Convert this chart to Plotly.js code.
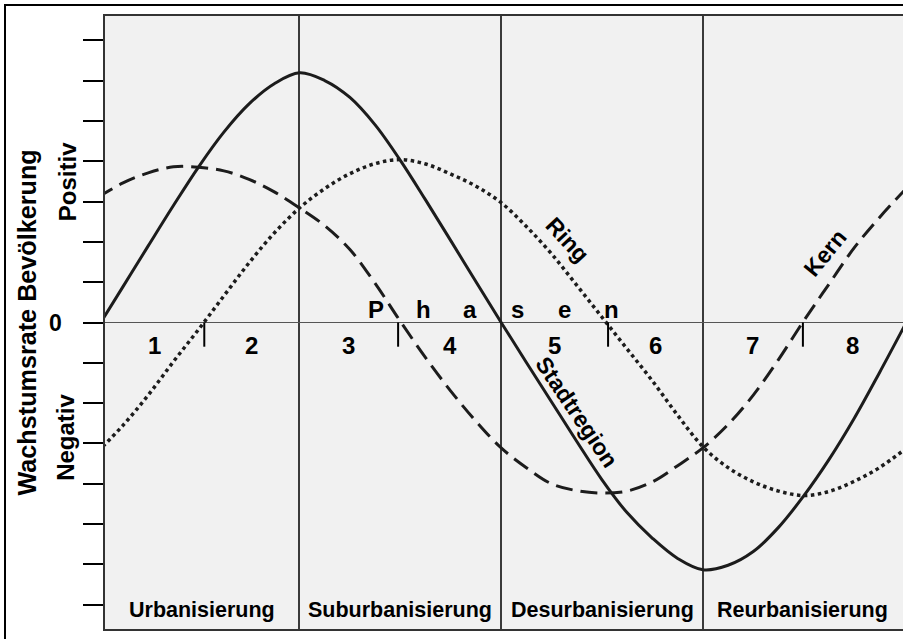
<!DOCTYPE html>
<html>
<head>
<meta charset="utf-8">
<script src="https://cdn.plot.ly/plotly-3.0.1.min.js"></script>
<style>
html, body { margin:0; padding:0; overflow:hidden; background:#fff; }
#chart { width:920px; height:660px; }
</style>
</head>
<body>
<div id="chart"></div>
<script>
// ---- data (x in stage units, 1 stage = 1) ----
const xs = [0, 0.125, 0.25, 0.375, 0.5, 0.625, 0.75, 0.875, 1.0, 1.125, 1.25, 1.375, 1.5, 1.625, 1.75, 1.875,
            2.0, 2.125, 2.25, 2.375, 2.5, 2.625, 2.75, 2.875, 3.0, 3.125, 3.25, 3.375, 3.5, 3.625, 3.75, 3.875, 4.0];
const stadtregion = [-0.12, 0.89, 1.9, 2.9, 3.86, 4.72, 5.42, 5.92, 6.19, 6.0, 5.58, 4.9, 4.02, 3.04, 2.03, 1.01,
                     0.0, -0.99, -1.97, -2.95, -3.9, -4.72, -5.35, -5.85, -6.13, -6.02, -5.68, -5.08, -4.3, -3.4, -2.38, -1.25, -0.08];
const kern = [3.1, 3.46, 3.71, 3.86, 3.85, 3.76, 3.55, 3.24, 2.84, 2.4, 1.81, 0.97, 0.03, -0.87, -1.7, -2.45,
              -3.11, -3.6, -4.0, -4.17, -4.23, -4.18, -3.95, -3.55, -3.11, -2.53, -1.8, -0.92, 0.04, 0.95, 1.85, 2.6, 3.28];
const ring = [-3.2, -2.55, -1.8, -0.97, -0.17, 0.66, 1.48, 2.22, 2.84, 3.32, 3.69, 3.94, 4.04, 3.93, 3.68, 3.38,
              2.97, 2.38, 1.7, 0.92, 0.13, -0.66, -1.45, -2.3, -3.08, -3.6, -3.95, -4.18, -4.29, -4.19, -3.94, -3.6, -3.15];

const stageBreaks = [1, 2, 3];
const stageNames = ["Urbanisierung", "Suburbanisierung", "Desurbanisierung", "Reurbanisierung"];
const phaseBreaks = [0.528, 1.489, 2.53, 3.496];
const phaseNumbers = ["1", "2", "3", "4", "5", "6", "7", "8"];
const phaseWord = ["P", "h", "a", "s", "e", "n"];
const yTicks = [-7, -6, -5, -4, -3, -2, -1, 0, 1, 2, 3, 4, 5, 6, 7];
const curveLabels = [
  {text: "Ring", x: 2.33, y: 2.05, angle: 47},
  {text: "Stadtregion", x: 2.375, y: -2.22, angle: 56},
  {text: "Kern", x: 3.606, y: 1.72, angle: -51}
];

// ---- chart ----
const FONT = "Liberation Sans, Arial, Helvetica, sans-serif";
const INK = "#1c1c1c";
const xRange = [0.0357, 4.027];
const yRange = [-7.6, 7.6];

const traces = [
  {x: xs, y: kern, mode: "lines", line: {color: INK, width: 3, dash: "17px,8px", shape: "spline", smoothing: 1}, name: "Kern", hoverinfo: "skip"},
  {x: xs, y: ring, mode: "lines", line: {color: INK, width: 3.5, dash: "3.5px,3.5px", shape: "spline", smoothing: 1}, name: "Ring", hoverinfo: "skip"},
  {x: xs, y: stadtregion, mode: "lines", line: {color: INK, width: 3, shape: "spline", smoothing: 1}, name: "Stadtregion", hoverinfo: "skip"}
];

const annotations = [];
const shapes = [];

// phase tick marks and phase numbers
const allBreaks = [xRange[0], ...[...phaseBreaks, ...stageBreaks].sort((a, b) => a - b), 3.99];
phaseBreaks.forEach(b => shapes.push({type: "line", xref: "x", yref: "y", x0: b, x1: b, y0: 0, y1: -0.6, line: {color: "#000", width: 2}, layer: "above"}));
phaseNumbers.forEach((t, i) => {
  const mid = (allBreaks[i] + allBreaks[i + 1]) / 2;
  annotations.push({x: mid, y: -0.56, xref: "x", yref: "y", text: "<b>" + t + "</b>", showarrow: false,
    xanchor: "center", yanchor: "middle", font: {family: FONT, size: 24, color: "#000"}});
});

// "P h a s e n"
const wordCenter = 1.964, letterStep = 0.233;
phaseWord.forEach((c, i) => {
  annotations.push({x: wordCenter + (i - (phaseWord.length - 1) / 2) * letterStep, y: 0.33, xref: "x", yref: "y",
    text: "<b>" + c + "</b>", showarrow: false, xanchor: "center", yanchor: "middle",
    font: {family: FONT, size: 24, color: "#000"}});
});

// stage names
const stageEdges = [xRange[0], ...stageBreaks, 3.99];
stageNames.forEach((n, i) => {
  annotations.push({x: (stageEdges[i] + stageEdges[i + 1]) / 2, y: -7.14, xref: "x", yref: "y",
    text: "<b>" + n + "</b>", showarrow: false, xanchor: "center", yanchor: "middle",
    font: {family: FONT, size: 21.5, color: "#000"}});
});

// curve labels
curveLabels.forEach(c => annotations.push({x: c.x, y: c.y, xref: "x", yref: "y", text: "<b>" + c.text + "</b>",
  showarrow: false, textangle: c.angle, xanchor: "center", yanchor: "middle", font: {family: FONT, size: 23, color: "#000"}}));

// y-axis labels
annotations.push({x: 0, xshift: -79, y: 0, xref: "paper", yref: "y", text: "<b>Wachstumsrate Bevölkerung</b>", showarrow: false,
  textangle: -90, xanchor: "center", yanchor: "middle", font: {family: FONT, size: 25.2, color: "#000"}});
annotations.push({x: 0, xshift: -38, y: 3.48, xref: "paper", yref: "y", text: "<b>Positiv</b>", showarrow: false,
  textangle: -90, xanchor: "center", yanchor: "middle", font: {family: FONT, size: 24, color: "#000"}});
annotations.push({x: 0, xshift: -39, y: -2.86, xref: "paper", yref: "y", text: "<b>Negativ</b>", showarrow: false,
  textangle: -90, xanchor: "center", yanchor: "middle", font: {family: FONT, size: 24, color: "#000"}});
annotations.push({x: 0, xshift: -50, y: 0, xref: "paper", yref: "y", text: "<b>0</b>", showarrow: false,
  xanchor: "center", yanchor: "middle", font: {family: FONT, size: 23, color: "#000"}});

// outer frame
shapes.push({type: "rect", xref: "paper", yref: "paper", x0: -0.12422, x1: 1.0062, y0: -0.0343, y1: 1.01794,
  line: {color: "#000", width: 2}, fillcolor: "rgba(0,0,0,0)", layer: "above"});

const layout = {
  width: 920, height: 660,
  margin: {l: 105, r: 10, t: 16, b: 31},
  paper_bgcolor: "#ffffff",
  plot_bgcolor: "#f1f1f1",
  showlegend: false,
  xaxis: {range: xRange, tickvals: stageBreaks, showticklabels: false, ticks: "", showgrid: true,
    gridcolor: "#3a3a3a", gridwidth: 2, zeroline: false, showline: true, mirror: true, linecolor: "#333", linewidth: 2, fixedrange: true},
  yaxis: {range: yRange, tickvals: yTicks, ticktext: yTicks.map(() => ""), ticks: "outside", ticklen: 20, tickwidth: 2,
    tickcolor: "#000", showgrid: false, zeroline: true, zerolinecolor: "#555", zerolinewidth: 1.5,
    showline: true, mirror: true, linecolor: "#333", linewidth: 2, fixedrange: true},
  annotations: annotations,
  shapes: shapes
};

Plotly.newPlot("chart", traces, layout, {displayModeBar: false, staticPlot: true});
</script>
</body>
</html>
